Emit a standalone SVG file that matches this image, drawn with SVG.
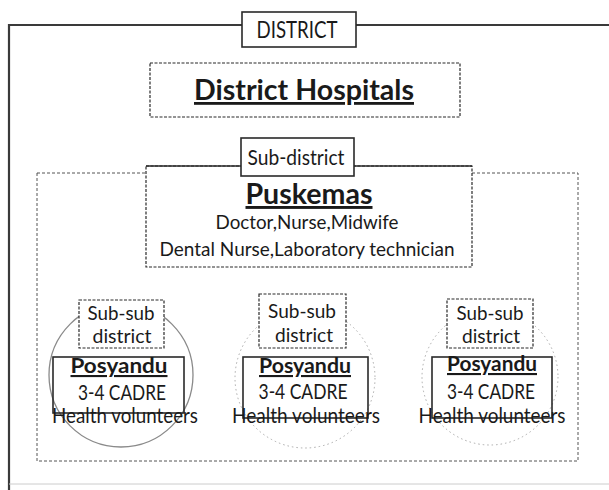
<svg xmlns="http://www.w3.org/2000/svg" width="609" height="490" viewBox="0 0 609 490">
<style>
  text { font-family: Lato, "Liberation Sans", sans-serif; fill: #1a1a1a; text-anchor: middle; }
  .b { font-weight: bold; }
  .u { text-decoration: underline; }
  .solid { fill: #fff; stroke: #2a2a2a; stroke-width: 1.6; }
  .dash { fill: #fff; stroke: #2a2a2a; stroke-width: 1.2; stroke-dasharray: 3 1.5; }
  .region { fill: none; stroke: #555; stroke-width: 1; stroke-dasharray: 3 2; }
  .faint { fill: none; stroke: #aaa; stroke-width: 1; stroke-dasharray: 1.5 3; }
</style>
<rect width="609" height="490" fill="#fff"/>

<g id="district-frame">
  <path d="M9,490 L9,25 L612,25" fill="none" stroke="#3a3a3a" stroke-width="2.2"/>
  <line x1="9" y1="484" x2="609" y2="484" stroke="#ccc" stroke-width="1"/>
</g>

<g id="district-label">
  <rect x="242" y="12" width="114" height="35" class="solid"/>
  <text x="297" y="38" font-size="24" textLength="81" lengthAdjust="spacingAndGlyphs">DISTRICT</text>
</g>

<g id="district-hospitals">
  <rect x="150" y="63" width="310" height="54" class="dash"/>
  <text x="304" y="100" font-size="28" class="b u" textLength="220" lengthAdjust="spacingAndGlyphs">District Hospitals</text>
</g>

<g id="subdistrict-region">
  <rect x="37" y="173" width="541" height="288" class="region"/>
</g>

<g id="circles">
  <circle cx="121" cy="375" r="72" fill="none" stroke="#8a8a8a" stroke-width="1.3"/>
  <circle cx="305" cy="378" r="70" class="faint"/>
  <circle cx="490" cy="377" r="68" class="faint"/>
</g>

<g id="puskemas">
  <rect x="146" y="166" width="326" height="101" class="dash"/>
  <line x1="146" y1="166" x2="472" y2="166" stroke="#2a2a2a" stroke-width="1.6"/>
  <text x="309" y="204" font-size="29" class="b u" textLength="127" lengthAdjust="spacingAndGlyphs">Puskemas</text>
  <text x="307" y="229" font-size="20" textLength="183" lengthAdjust="spacingAndGlyphs">Doctor,Nurse,Midwife</text>
  <text x="307" y="256" font-size="20" textLength="295" lengthAdjust="spacingAndGlyphs">Dental Nurse,Laboratory technician</text>
</g>

<g id="subdistrict-label">
  <rect x="241" y="138" width="113" height="38" class="solid" stroke-width="1.2"/>
  <text x="296" y="165" font-size="22" textLength="97" lengthAdjust="spacingAndGlyphs">Sub-district</text>
</g>

<g id="subsub-1">
  <rect x="79" y="300" width="85" height="48" class="dash"/>
  <text x="121" y="320" font-size="19" textLength="67" lengthAdjust="spacingAndGlyphs">Sub-sub</text>
  <text x="122" y="343" font-size="19" textLength="59" lengthAdjust="spacingAndGlyphs">district</text>
</g>
<g id="posyandu-1">
  <rect x="53" y="357" width="131" height="56" fill="none" stroke="#2a2a2a" stroke-width="1.6"/>
  <text x="119" y="373" font-size="21" class="b u" textLength="97" lengthAdjust="spacingAndGlyphs">Posyandu</text>
  <text x="122" y="400" font-size="21" textLength="88" lengthAdjust="spacingAndGlyphs">3-4 CADRE</text>
  <text x="125" y="423" font-size="21" textLength="146" lengthAdjust="spacingAndGlyphs" fill="#444">Health volunteers</text>
</g>

<g id="subsub-2">
  <rect x="259" y="294" width="87" height="54" class="dash"/>
  <text x="302" y="318" font-size="20" textLength="68" lengthAdjust="spacingAndGlyphs">Sub-sub</text>
  <text x="304" y="342" font-size="20" textLength="58" lengthAdjust="spacingAndGlyphs">district</text>
</g>
<g id="posyandu-2">
  <rect x="243" y="357" width="125" height="61" fill="none" stroke="#2a2a2a" stroke-width="1.6"/>
  <text x="305" y="373" font-size="21" class="b u" textLength="92" lengthAdjust="spacingAndGlyphs">Posyandu</text>
  <text x="303" y="399" font-size="21" textLength="89" lengthAdjust="spacingAndGlyphs">3-4 CADRE</text>
  <text x="306" y="423" font-size="21" textLength="148" lengthAdjust="spacingAndGlyphs">Health volunteers</text>
</g>

<g id="subsub-3">
  <rect x="447" y="299" width="86" height="49" class="dash"/>
  <text x="490" y="320" font-size="19" textLength="67" lengthAdjust="spacingAndGlyphs">Sub-sub</text>
  <text x="491" y="343" font-size="19" textLength="58" lengthAdjust="spacingAndGlyphs">district</text>
</g>
<g id="posyandu-3">
  <rect x="432" y="357" width="120" height="61" fill="none" stroke="#2a2a2a" stroke-width="1.6"/>
  <text x="492" y="371" font-size="21" class="b u" textLength="90" lengthAdjust="spacingAndGlyphs">Posyandu</text>
  <text x="491" y="399" font-size="21" textLength="88" lengthAdjust="spacingAndGlyphs">3-4 CADRE</text>
  <text x="492" y="423" font-size="21" textLength="147" lengthAdjust="spacingAndGlyphs">Health volunteers</text>
</g>
</svg>
